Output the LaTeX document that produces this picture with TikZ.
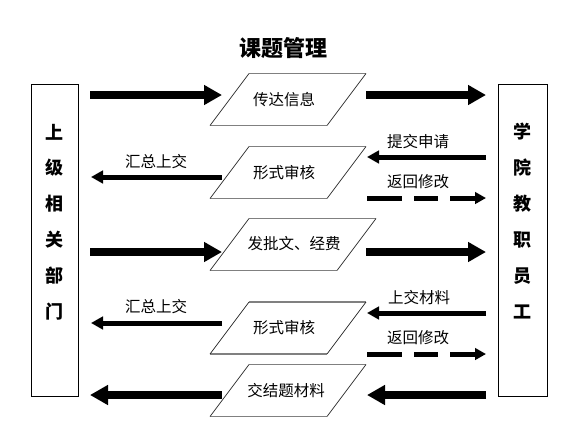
\documentclass[tikz,border=0pt]{standalone}
\usepackage{fontspec}
\newfontfamily\cjk{Noto Sans CJK SC}
\usetikzlibrary{arrows.meta}
\tikzset{
  bigarr/.style={line width=7.5pt,-{Triangle[width=19pt,length=18pt]}},
  thinarr/.style={line width=5pt,-{Triangle[width=12.5pt,length=12pt]}},
  dasharr/.style={line width=5pt,-{Triangle[width=11.5pt,length=11pt]},dash pattern={on 35pt off 12pt on 24pt off 12pt on 80pt}},
  sidebox/.style={draw=black,line width=0.9pt,minimum width=47pt,minimum height=312pt,inner sep=0pt},
  sidetxt/.style={font=\cjk\bfseries\fontsize{18}{18}\selectfont,inner sep=0pt},
  paratxt/.style={font=\cjk\fontsize{15.5}{15.5}\selectfont,inner sep=0pt},
  lbl/.style={font=\cjk\fontsize{15.5}{15.5}\selectfont,inner sep=0pt},
  ttl/.style={font=\cjk\bfseries\fontsize{22}{22}\selectfont,inner sep=0pt},
  hedge/.style={draw=black!50,line width=1.6pt},
  sedge/.style={draw=black!85,line width=0.7pt},
}
% #1 center x, #2 center y, #3 half width
\newcommand\myparal[3]{%
  \fill[white] (#1-#3,#2+26) -- (#1+#3-39,#2+26) -- (#1+#3,#2-26) -- (#1-#3+39,#2-26) -- cycle;
  \draw[hedge] (#1-#3,#2+26) -- (#1+#3-39,#2+26);
  \draw[hedge] (#1-#3+39,#2-26) -- (#1+#3,#2-26);
  \draw[sedge] (#1+#3-39,#2+26) -- (#1+#3,#2-26);
  \draw[sedge] (#1-#3,#2+26) -- (#1-#3+39,#2-26);
}
\begin{document}
\begin{tikzpicture}[x=1pt,y=-1pt]
\useasboundingbox (0,0) rectangle (584,440);
\fill[white] (0,0) rectangle (584,440);

\node[ttl] (title) at (283,48) {课题管理};

% side boxes
\node[sidebox] (L) at (54.5,240) {};
\node[sidebox,minimum width=49pt] (R) at (522.5,240) {};
\foreach \c/\y [count=\i] in {上/132,级/168,相/204,关/240,部/276,门/312}
  \node[sidetxt] (l\i) at (54.5,\y) {\c};
\foreach \c/\y [count=\i] in {学/132,院/168,教/204,职/240,员/276,工/312}
  \node[sidetxt] (r\i) at (522.5,\y) {\c};

% parallelograms
\myparal{288}{99.5}{78}
\myparal{288}{172.5}{78}
\myparal{293}{244.5}{83}
\myparal{288}{328}{78}
\myparal{288}{390.5}{78}
\node[paratxt] (P1) at (284,100) {传达信息};
\node[paratxt] (P2) at (284,173) {形式审核};
\node[paratxt] (P3) at (294,244) {发批文、经费};
\node[paratxt] (P4) at (284,328) {形式审核};
\node[paratxt] (P5) at (286,391) {交结题材料};

% labels
\node[lbl] (h1) at (156,162) {汇总上交};
\node[lbl] (t1) at (418,142) {提交申请};
\node[lbl] (f1) at (418,182) {返回修改};
\node[lbl] (h2) at (156,307) {汇总上交};
\node[lbl] (t2) at (419,298) {上交材料};
\node[lbl] (f2) at (418,338) {返回修改};

% connector end points
\coordinate (a1) at (90,95);   \coordinate (a2) at (222,95);
\coordinate (a3) at (366,95);  \coordinate (a4) at (486,95);
\coordinate (b1) at (222,177); \coordinate (b2) at (91,177);
\coordinate (b3) at (486,157); \coordinate (b4) at (367,157);
\coordinate (b5) at (367,198); \coordinate (b6) at (486,198);
\coordinate (c1) at (90,252);  \coordinate (c2) at (222,252);
\coordinate (c3) at (366,252); \coordinate (c4) at (486,252);
\coordinate (d1) at (222,323); \coordinate (d2) at (91,323);
\coordinate (d3) at (486,313); \coordinate (d4) at (367,313);
\coordinate (d5) at (367,354); \coordinate (d6) at (486,354);
\coordinate (e1) at (222,395); \coordinate (e2) at (90,395);
\coordinate (e3) at (486,395); \coordinate (e4) at (367,395);

\draw[bigarr] (a1) -- (a2);
\draw[bigarr] (a3) -- (a4);
\draw[thinarr] (b1) -- (b2);
\draw[thinarr] (b3) -- (b4);
\draw[dasharr] (b5) -- (b6);
\draw[bigarr] (c1) -- (c2);
\draw[bigarr] (c3) -- (c4);
\draw[thinarr] (d1) -- (d2);
\draw[thinarr] (d3) -- (d4);
\draw[dasharr] (d5) -- (d6);
\draw[bigarr] (e1) -- (e2);
\draw[bigarr] (e3) -- (e4);
\end{tikzpicture}
\end{document}
